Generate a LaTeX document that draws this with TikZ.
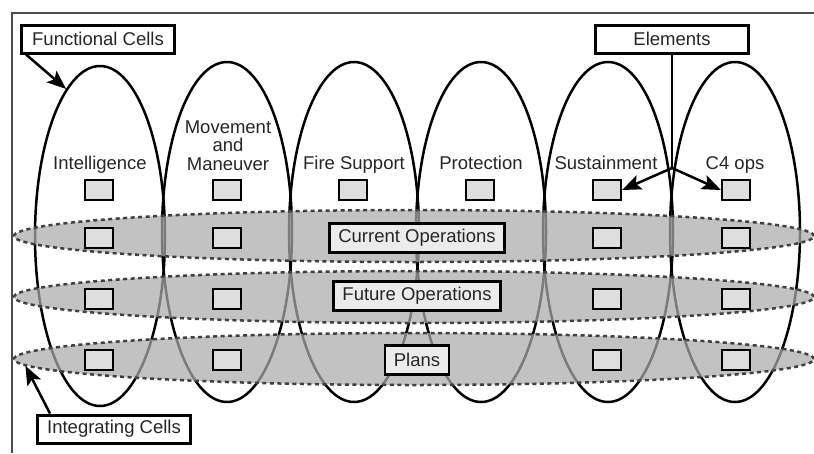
\documentclass[tikz,border=0pt]{standalone}
\usepackage{fontspec}
\setmainfont{Liberation Sans}
\usetikzlibrary{arrows.meta, shapes.geometric}

\begin{document}
\begin{tikzpicture}[x=1pt, y=-1pt,
    every node/.style={font=\fontsize{18.5}{18.5}\selectfont, text=black!85},
    cell/.style={ellipse, draw, line width=2.5pt, minimum width=130pt, minimum height=340pt, inner sep=0pt},
    integ/.style={ellipse, draw=black!75, line width=2.5pt, dash pattern=on 4pt off 3.5pt, fill=black!33, fill opacity=0.72, minimum width=800pt, minimum height=52pt, inner sep=0pt},
    elem/.style={draw, line width=2.2pt, fill=black!13, minimum width=28pt, minimum height=20pt, inner sep=0pt},
    callout/.style={draw, line width=3pt, fill=white, minimum width=153pt, minimum height=28pt, inner sep=2pt},
    rowlabel/.style={draw, line width=2.7pt, fill=black!8, minimum height=29pt, inner xsep=9pt},
    cellname/.style={anchor=base, align=center},
    pointer/.style={-{Stealth[length=19pt, width=15pt, inset=4pt]}, line width=2.5pt}]
    \useasboundingbox (0,0) rectangle (814,453);
    \draw[line width=1.5pt, black!70] (12,453) -- (12,13) -- (814,13);

    % functional cells
    \node[cell] (intel) at (100,236) {};
    \node[cell] (move) at (227,232) {};
    \node[cell] (fire) at (354,232) {};
    \node[cell] (prot) at (481,232) {};
    \node[cell] (sust) at (608,232) {};
    \node[cell] (cfour) at (735,232) {};

    % integrating cells
    \node[integ] (curops) at (414,236) {};
    \node[integ] (futops) at (414,297) {};
    \node[integ] (planrow) at (414,359) {};

    \node[cellname] (intlbl) at (100,169) {Intelligence};
    \node[cellname] (movlbl) at (228,170) {Movement\\and\\Maneuver};
    \node[cellname] (firelbl) at (354,169) {Fire Support};
    \node[cellname] (protlbl) at (481,169) {Protection};
    \node[cellname] (sustlbl) at (606,169) {Sustainment};
    \node[cellname] (cflbl) at (735,169) {C4 ops};

    % elements
    \node[elem] (e11) at (99,190) {};
    \node[elem] (e21) at (227,190) {};
    \node[elem] (e31) at (353,190) {};
    \node[elem] (e41) at (480,190) {};
    \node[elem] (e51) at (607,190) {};
    \node[elem] (e61) at (736,190) {};
    \node[elem] (e12) at (99,238) {};
    \node[elem] (e22) at (227,238) {};
    \node[elem] (e52) at (607,238) {};
    \node[elem] (e62) at (736,238) {};
    \node[elem] (e13) at (99,299) {};
    \node[elem] (e23) at (227,299) {};
    \node[elem] (e53) at (607,299) {};
    \node[elem] (e63) at (736,299) {};
    \node[elem] (e14) at (99,360) {};
    \node[elem] (e24) at (227,360) {};
    \node[elem] (e54) at (607,360) {};
    \node[elem] (e64) at (736,360) {};

    \node[rowlabel] (curlbl) at (417,238) {Current Operations};
    \node[rowlabel] (futlbl) at (417,296) {Future Operations};
    \node[rowlabel] (planlbl) at (417,360) {Plans};

    % callouts
    \node[callout] (funclbl) at (98,39) {Functional Cells};
    \node[callout] (elemlbl) at (672,39) {Elements};
    \node[callout] (integlbl) at (114,429) {Integrating Cells};

    \coordinate (fork) at (672,168);
    \draw[pointer] ([xshift=6pt]funclbl.south west) -- (intel.103);
    \draw[line width=2.5pt] (elemlbl.south) -- (fork);
    \draw[pointer] (fork) -- (e51.east);
    \draw[pointer] (fork) -- (e61.west);
    \draw[pointer] ([xshift=14pt]integlbl.north west) -- (planrow.181.5);
\end{tikzpicture}
\end{document}
